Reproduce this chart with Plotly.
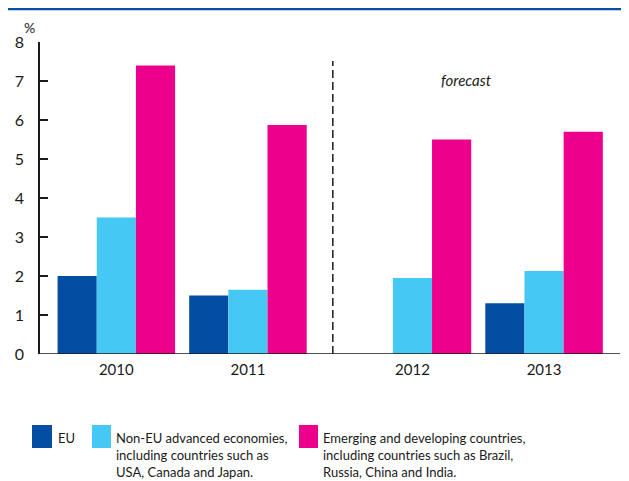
import plotly.graph_objects as go

years = ["2010", "2011", "2012", "2013"]
series_names = [
    "EU",
    "Non-EU advanced economies,<br>including countries such as<br>USA, Canada and Japan.",
    "Emerging and developing countries,<br>including countries such as Brazil,<br>Russia, China and India.",
]
eu = [2.0, 1.5, None, 1.3]
non_eu = [3.5, 1.65, 1.95, 2.13]
emerging = [7.4, 5.87, 5.5, 5.7]
y_ticks = [0, 1, 2, 3, 4, 5, 6, 7, 8]

# layout positions of year groups (gap before forecast years)
x_pos = [0, 1, 2.25, 3.25]
colors = ["#034EA2", "#46C8F5", "#EC008C"]
FONT = "Lato, Open Sans, sans-serif"
TXT = "#1a1a1a"

# page body has an 8px margin: compensate so the plot lands where the reference has it
OFF = 8
fig = go.Figure()
for name, vals, c in zip(series_names, [eu, non_eu, emerging], colors):
    fig.add_trace(go.Bar(x=x_pos, y=vals, name=name, marker=dict(color=c, line=dict(width=0)),
                         showlegend=False))

PW, PH = 580, 312
fig.update_layout(
    width=629, height=481,
    margin=dict(l=40 - OFF, r=629 - (40 - OFF) - PW, t=42 - OFF, b=481 - (42 - OFF) - PH,
                autoexpand=False),
    paper_bgcolor="white", plot_bgcolor="white",
    barmode="group", bargap=0.107, bargroupgap=0,
    font=dict(family=FONT, size=15, color=TXT),
    xaxis=dict(range=[-0.58, 3.827], tickvals=x_pos, ticktext=years, showgrid=False,
               zeroline=False, showline=False, ticks="", tickfont=dict(size=15),
               ticklabelstandoff=5, automargin=False),
    yaxis=dict(range=[0, 8], tickvals=y_ticks, showgrid=False, zeroline=False,
               showline=True, linecolor=TXT, linewidth=1.5,
               ticks="inside", ticklen=8, tickcolor=TXT, tickwidth=1.5,
               tickfont=dict(size=16), ticklabelstandoff=11, automargin=False),
)


def px_x(px):
    return (px - 40) / PW


def px_y(py):
    return (354 - py) / PH


# baseline
fig.add_shape(type="line", xref="paper", yref="y", x0=0, x1=1.0, y0=0, y1=0,
              line=dict(color=TXT, width=1.5))
# forecast divider
fig.add_shape(type="line", xref="x", yref="paper", x0=1.645, x1=1.645, y0=0, y1=px_y(61),
              line=dict(color=TXT, width=1.5, dash="8px,4px"))
fig.add_annotation(x=2.66, y=px_y(69), xref="x", yref="paper", text="<i>forecast</i>",
                   showarrow=False, font=dict(size=15, color=TXT))
# top blue band (as high as the page allows)
fig.add_shape(type="line", xref="paper", yref="paper", x0=px_x(0), x1=px_x(640),
              y0=px_y(9), y1=px_y(9), line=dict(color="#034EA2", width=2.5))
# unit label
fig.add_annotation(xref="paper", yref="paper", x=px_x(22), y=px_y(17), text="%",
                   showarrow=False, font=dict(size=14, color=TXT))

# legend drawn manually
leg = [(32, 52, 56), (92, 111, 114), (299, 318, 321)]
for (bx0, bx1, tx), name, c in zip(leg, series_names, colors):
    fig.add_shape(type="rect", xref="paper", yref="paper",
                  x0=px_x(bx0), x1=px_x(bx1), y0=px_y(448), y1=px_y(425),
                  fillcolor=c, line=dict(width=0))
    fig.add_annotation(xref="paper", yref="paper", x=px_x(tx), y=px_y(428),
                       text=name, showarrow=False, xanchor="left", yanchor="top", align="left",
                       font=dict(size=13, color=TXT))

fig.write_html("out.html")
